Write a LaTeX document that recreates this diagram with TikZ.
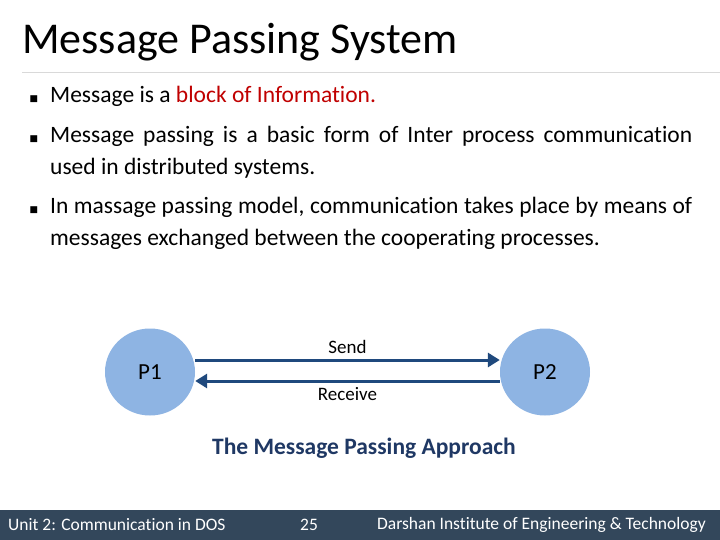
\documentclass[tikz,border=0pt]{standalone}
\usepackage{fontspec}
\setmainfont[Ligatures=NoCommon]{Carlito}
\newfontfamily\dv{DejaVu Sans}
\usetikzlibrary{shapes.geometric,arrows.meta}
\definecolor{nodeblue}{HTML}{8EB4E3}
\definecolor{arrowblue}{HTML}{1F497D}
\definecolor{footbg}{HTML}{33475B}
\definecolor{capblue}{HTML}{1F3864}
\definecolor{redtxt}{HTML}{C00000}
\hyphenpenalty=10000
\begin{document}
\begin{tikzpicture}[x=1pt,y=-1pt,
  proc/.style={ellipse,fill=nodeblue,minimum width=90pt,minimum height=87pt,inner sep=0pt,font=\fontsize{23}{26}\selectfont},
  conn/.style={draw=arrowblue,line width=3pt,-{Triangle[length=12pt,width=14pt]}},
  bul/.style={anchor=north west,text width=642pt,align=justify,inner sep=0pt,font=\fontsize{23.5}{32}\selectfont},
  bulmark/.style={anchor=center,inner sep=0pt,font=\dv\fontsize{9}{10}\selectfont}]
\useasboundingbox (0,0) rectangle (720,540);
\fill[white] (0,0) rectangle (720,540);
\node[anchor=west,inner sep=0pt,font=\fontsize{44}{50}\selectfont] (title) at (22,42) {Message Passing System};
\draw[black!15,line width=0.8pt] (22,72) -- (720,72);
\node[bulmark] (m1) at (34,99) {■};
\node[bul] (b1) at (50,86) {Message is a \textcolor{redtxt}{block of Information.}};
\node[bulmark] (m2) at (34,139) {■};
\node[bul] (b2) at (50,126) {Message passing is a basic form of Inter process communication used in distributed systems.};
\node[bulmark] (m3) at (34,210) {■};
\node[bul] (b3) at (50,197) {In massage passing model, communication takes place by means of messages exchanged between the cooperating processes.};
\node[proc] (p1) at (150,372) {P1};
\node[proc] (p2) at (545,372) {P2};
\draw[conn] (p1.east |- 0,360) -- node[above=2pt,font=\fontsize{19}{22}\selectfont] (send) {Send} (p2.west |- 0,360);
\draw[conn] (p2.west |- 0,381) -- node[below=2pt,font=\fontsize{19}{22}\selectfont] (recv) {Receive} (p1.east |- 0,381);
\node[font=\bfseries\fontsize{23.5}{26}\selectfont,text=capblue] (cap) at (364,448) {The Message Passing Approach};
\fill[footbg] (0,510) rectangle (720,540);
\node[anchor=west,text=white,inner sep=0pt,font=\fontsize{17.5}{20}\selectfont] (f1) at (8,525) {Unit 2: Communication in DOS};
\node[text=white,inner sep=0pt,font=\fontsize{17.5}{20}\selectfont] (f2) at (309,525) {25};
\node[anchor=east,text=white,inner sep=0pt,font=\fontsize{17.5}{20}\selectfont] (f3) at (706,525) {Darshan Institute of Engineering \& Technology};
\end{tikzpicture}
\end{document}
